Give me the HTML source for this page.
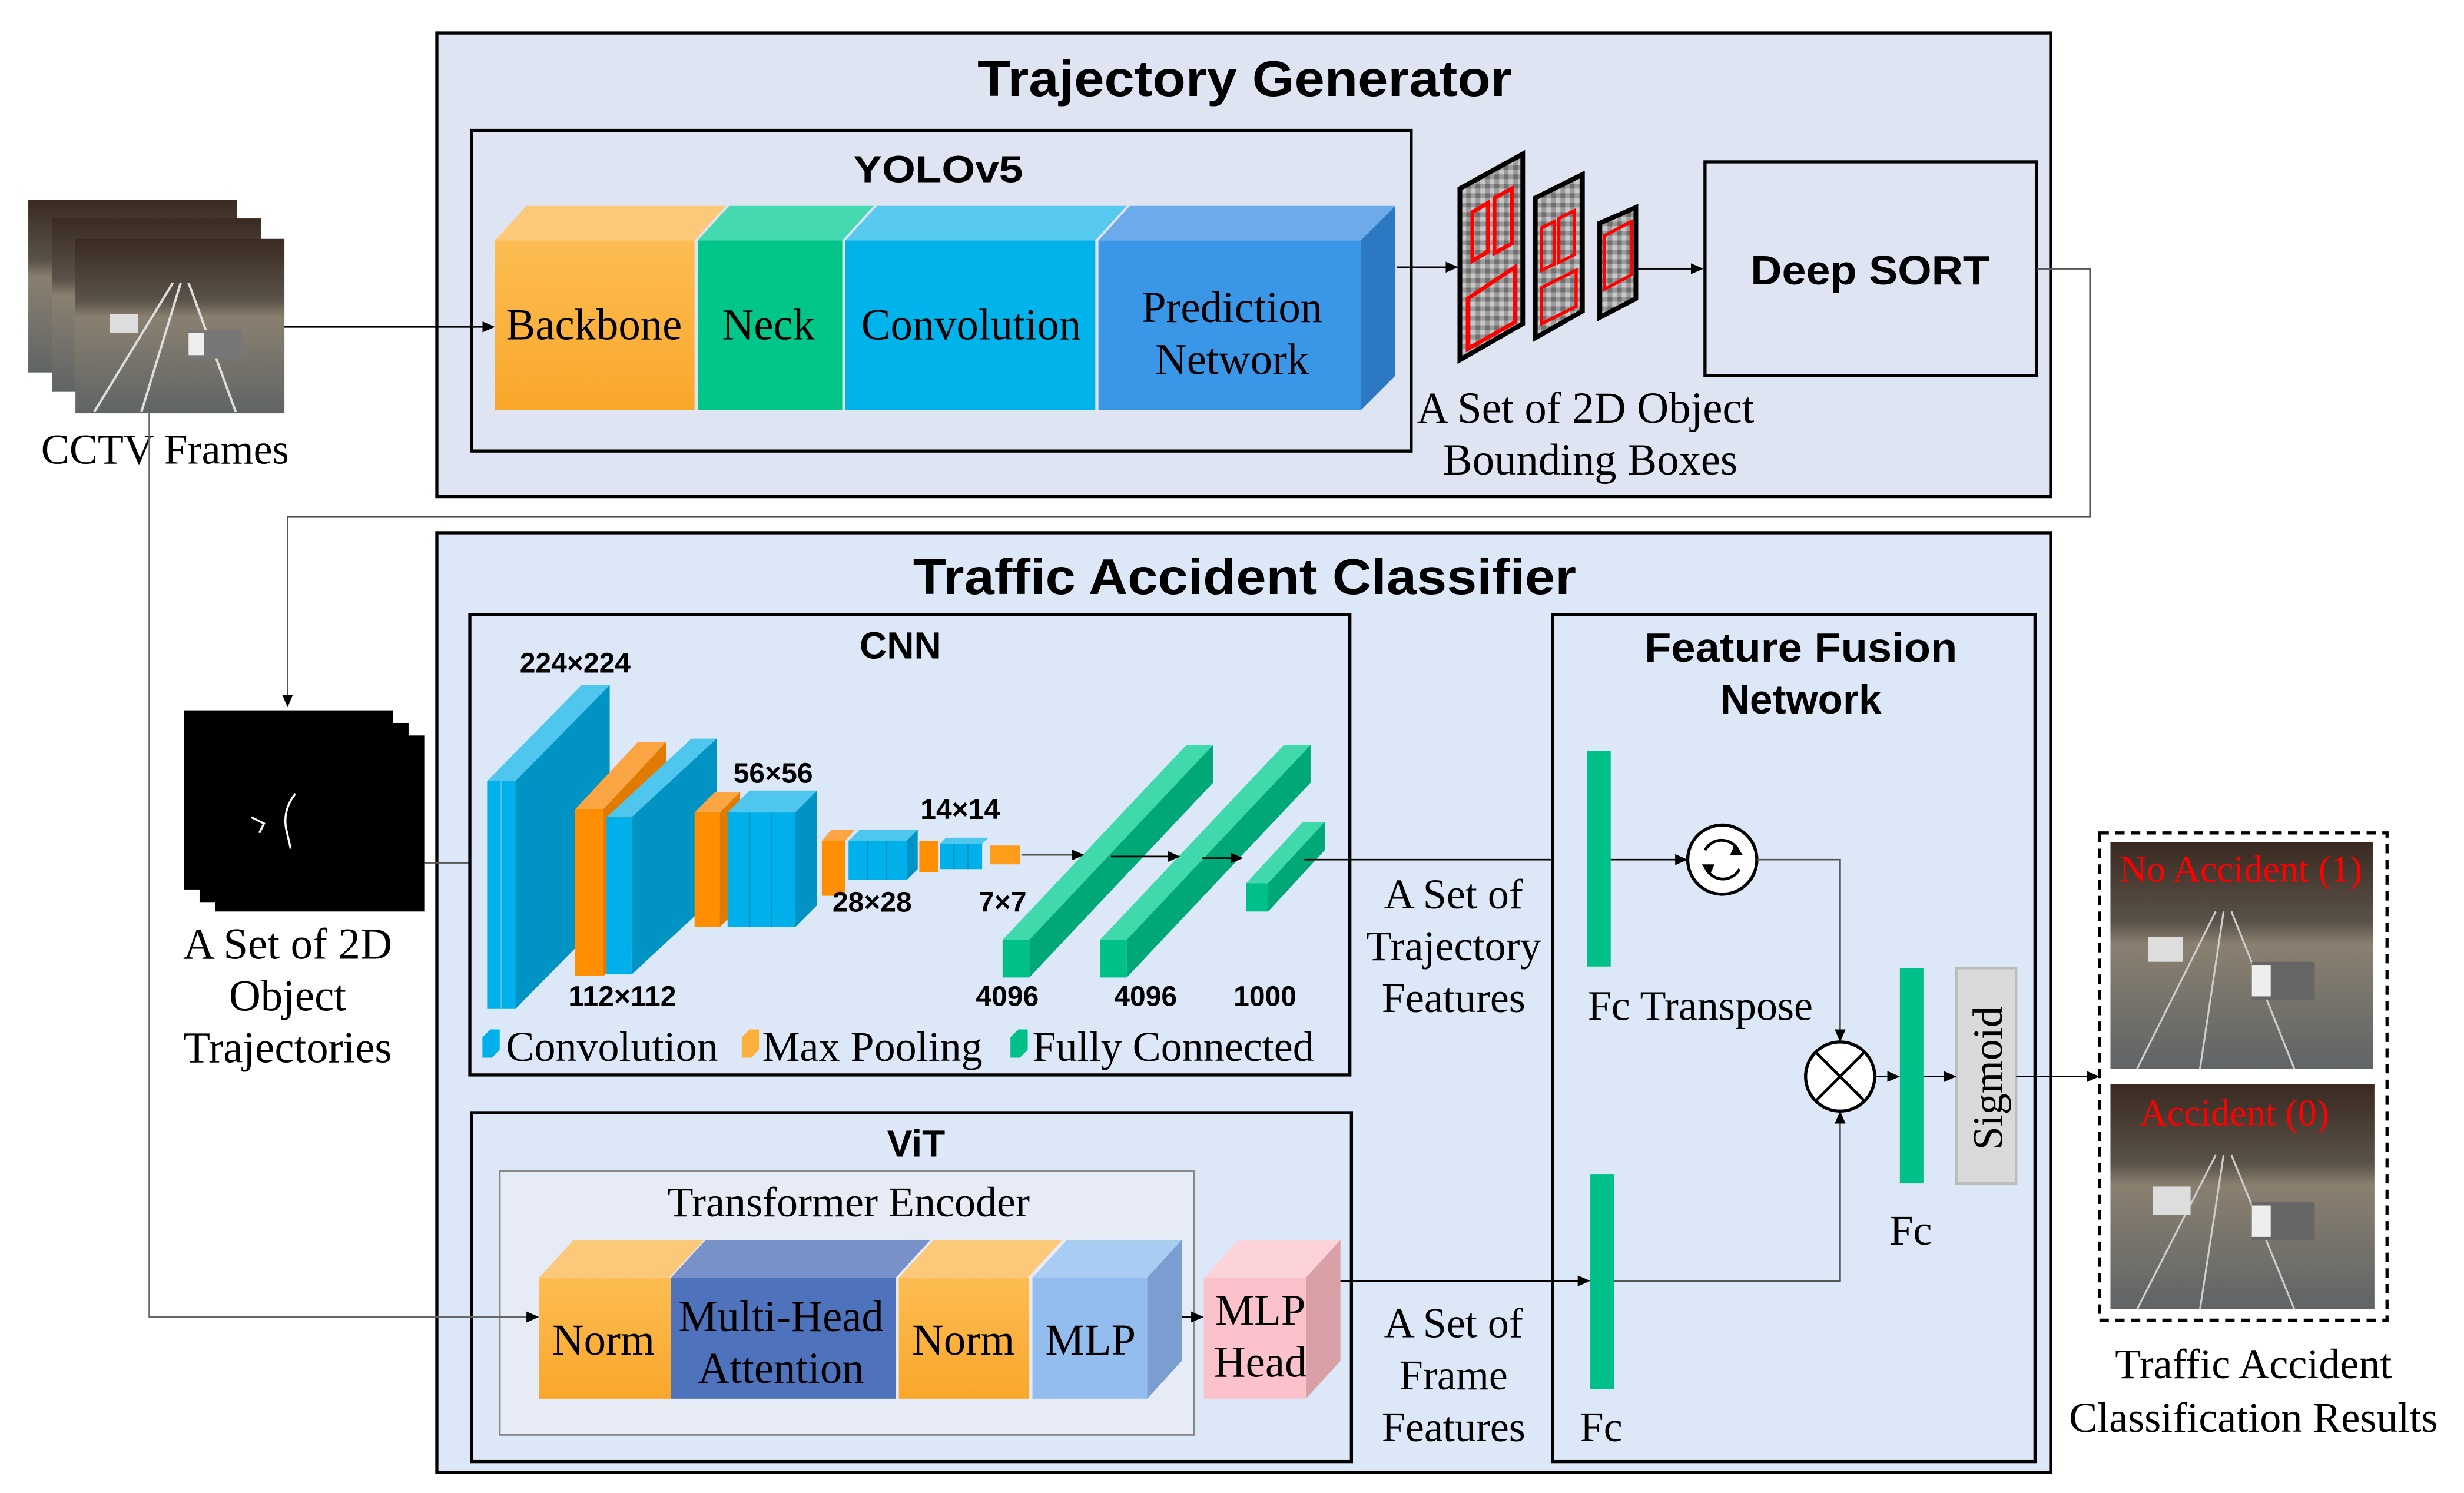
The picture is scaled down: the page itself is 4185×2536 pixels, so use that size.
<!DOCTYPE html>
<html><head><meta charset="utf-8"><style>
html,body{margin:0;padding:0;background:#fff;}
svg{display:block;}
.s{font-family:"Liberation Serif",serif;fill:#000;}
.b{font-family:"Liberation Sans Narrow","Liberation Sans",sans-serif;font-weight:bold;fill:#000;}
</style></head><body>
<svg width="4185" height="2536" viewBox="0 0 1568 950" preserveAspectRatio="none" xmlns="http://www.w3.org/2000/svg">
<defs>
<marker id="ah" markerWidth="8" markerHeight="8" refX="7" refY="4" orient="auto" markerUnits="userSpaceOnUse"><path d="M0,0.5 L8,4 L0,7.5z" fill="#000"/></marker>
<linearGradient id="road" x1="0" y1="0" x2="0" y2="1"><stop offset="0" stop-color="#3a2a22"/><stop offset="0.35" stop-color="#5a5248"/><stop offset="0.45" stop-color="#8a8070"/><stop offset="1" stop-color="#606466"/></linearGradient>
<linearGradient id="org" x1="0" y1="0" x2="0" y2="1"><stop offset="0" stop-color="#fdbd52"/><stop offset="1" stop-color="#f9a72b"/></linearGradient>
<pattern id="noise" width="6" height="6" patternUnits="userSpaceOnUse"><rect width="6" height="6" fill="#9a9a9a"/><rect x="0" y="0" width="3" height="3" fill="#c8c8c8"/><rect x="3" y="3" width="3" height="3" fill="#707070"/></pattern>
</defs>

<!-- CCTV frames -->
<rect x="18" y="127" width="133" height="110" fill="url(#road)"/>
<rect x="33" y="139" width="133" height="110" fill="url(#road)"/>
<rect x="48" y="152" width="133" height="111" fill="url(#road)"/>
<path d="M60,262 L110,180 M90,262 L115,180 M150,262 L120,180" stroke="#ddd" stroke-width="1.5" fill="none"/>
<rect x="70" y="200" width="18" height="12" fill="#ddd"/>
<rect x="120" y="210" width="34" height="18" fill="#777"/><rect x="120" y="212" width="10" height="14" fill="#eee"/>
<text class="s" x="105" y="295" font-size="27" text-anchor="middle">CCTV Frames</text>

<!-- Trajectory generator -->
<rect x="278" y="21" width="1027" height="295" fill="#dfe4f3" stroke="#000" stroke-width="2"/>
<text class="b" x="792" y="61" font-size="32" text-anchor="middle" textLength="340" lengthAdjust="spacingAndGlyphs">Trajectory Generator</text>
<rect x="300" y="83" width="598" height="204" fill="#dfe4f3" stroke="#000" stroke-width="2"/>
<text class="b" x="597" y="116" font-size="24" text-anchor="middle" textLength="108" lengthAdjust="spacingAndGlyphs">YOLOv5</text>

<polygon points="315,153 335,131 462,131 442,153" fill="#fcc97a"/>
<rect x="315" y="153" width="127" height="108" fill="url(#org)"/>
<polygon points="444,153 464,131 556,131 536,153" fill="#45d9b2"/>
<rect x="444" y="153" width="92" height="108" fill="#00c68a"/>
<polygon points="538,153 558,131 717,131 697,153" fill="#58c9ee"/>
<rect x="538" y="153" width="159" height="108" fill="#00b3ea"/>
<polygon points="699,153 719,131 888,131 866,153" fill="#6caaea"/>
<polygon points="866,153 888,131 888,239 866,261" fill="#2c78c2"/>
<rect x="699" y="153" width="167" height="108" fill="#3a96e6"/>
<text class="s" x="378" y="216" font-size="28" text-anchor="middle">Backbone</text>
<text class="s" x="489" y="216" font-size="28" text-anchor="middle">Neck</text>
<text class="s" x="618" y="216" font-size="28" text-anchor="middle">Convolution</text>
<text class="s" x="784" y="205" font-size="28" text-anchor="middle">Prediction</text>
<text class="s" x="784" y="238" font-size="28" text-anchor="middle">Network</text>

<line x1="181" y1="208" x2="314" y2="208" stroke="#000" stroke-width="1" marker-end="url(#ah)"/>
<line x1="889" y1="170" x2="927" y2="170" stroke="#000" stroke-width="1" marker-end="url(#ah)"/>

<!-- feature maps -->
<polygon points="929,120 969,98 969,206 929,229" fill="url(#noise)" stroke="#000" stroke-width="3"/>
<polygon points="934,190 964,170 964,205 934,222" fill="none" stroke="#f00" stroke-width="2.5"/>
<polygon points="937,135 947,129 947,160 937,166" fill="none" stroke="#f00" stroke-width="2.5"/>
<polygon points="951,126 962,120 962,155 951,161" fill="none" stroke="#f00" stroke-width="2.5"/>
<polygon points="977,126 1007,111 1007,198 977,215" fill="url(#noise)" stroke="#000" stroke-width="3"/>
<polygon points="981,145 989,141 989,168 981,172" fill="none" stroke="#f00" stroke-width="2"/>
<polygon points="992,139 1002,134 1002,162 992,167" fill="none" stroke="#f00" stroke-width="2"/>
<polygon points="981,183 1003,172 1003,195 981,206" fill="none" stroke="#f00" stroke-width="2"/>
<polygon points="1018,142 1041,132 1041,190 1018,202" fill="url(#noise)" stroke="#000" stroke-width="3"/>
<polygon points="1021,150 1038,141 1038,175 1021,184" fill="none" stroke="#f00" stroke-width="2"/>
<line x1="1041" y1="171" x2="1083" y2="171" stroke="#000" stroke-width="1" marker-end="url(#ah)"/>
<rect x="1085" y="103" width="211" height="136" fill="#dfe4f3" stroke="#000" stroke-width="2"/>
<text class="b" x="1190" y="181" font-size="26" text-anchor="middle" textLength="152" lengthAdjust="spacingAndGlyphs">Deep SORT</text>
<text class="s" x="1009" y="269" font-size="28" text-anchor="middle">A Set of 2D Object</text>
<text class="s" x="1012" y="302" font-size="28" text-anchor="middle">Bounding Boxes</text>

<polyline points="1296,171 1330,171 1330,329 183,329 183,449" fill="none" stroke="#555" stroke-width="1" marker-end="url(#ah)"/>

<!-- Traffic accident classifier -->
<rect x="278" y="339" width="1027" height="598" fill="#dce8f7" stroke="#000" stroke-width="2"/>
<text class="b" x="792" y="378" font-size="32" text-anchor="middle" textLength="422" lengthAdjust="spacingAndGlyphs">Traffic Accident Classifier</text>

<!-- trajectories images -->
<rect x="117" y="452" width="133" height="114" fill="#000"/>
<rect x="127" y="460" width="133" height="114" fill="#000"/>
<rect x="137" y="468" width="133" height="112" fill="#000"/>
<path d="M160,520 L168,524 L165,530 M188,505 Q180,515 182,527 L185,540" stroke="#fff" stroke-width="1.3" fill="none"/>
<text class="s" x="183" y="610" font-size="28" text-anchor="middle">A Set of 2D</text>
<text class="s" x="183" y="643" font-size="28" text-anchor="middle">Object</text>
<text class="s" x="183" y="676" font-size="28" text-anchor="middle">Trajectories</text>
<line x1="270" y1="549" x2="308" y2="549" stroke="#555" stroke-width="1" marker-end="url(#ah)"/>

<!-- CNN -->
<rect x="299" y="391" width="560" height="293" fill="#dce8f7" stroke="#000" stroke-width="2"/>
<text class="b" x="573" y="419" font-size="24" text-anchor="middle">CNN</text>
<polygon points="310,497 370,436 388,436 328,497" fill="#4fc6ee"/>
<polygon points="328,497 388,436 388,581 328,642" fill="#0093c4"/>
<rect x="310" y="497" width="18" height="145" fill="#00b0eb"/>
<line x1="319" y1="497" x2="319" y2="642" stroke="#4fc6ee" stroke-width="1"/>
<polygon points="366,515 406,472 424,472 384,515" fill="#fba544"/>
<polygon points="384,515 424,472 424,578 384,621" fill="#e07a00"/>
<rect x="366" y="515" width="18" height="106" fill="#ff8f00"/>
<polygon points="386,520 440,470 456,470 402,520" fill="#4fc6ee"/>
<polygon points="402,520 456,470 456,570 402,620" fill="#0093c4"/>
<rect x="386" y="520" width="16" height="100" fill="#00b0eb"/>
<polygon points="442,517 455,504 471,504 458,517" fill="#fba544"/>
<polygon points="458,517 471,504 471,577 458,590" fill="#e07a00"/>
<rect x="442" y="517" width="16" height="73" fill="#ff8f00"/>
<polygon points="463,517 477,503 520,503 506,517" fill="#4fc6ee"/>
<polygon points="506,517 520,503 520,576 506,590" fill="#0093c4"/>
<rect x="463" y="517" width="43" height="73" fill="#00b0eb"/>
<line x1="477" y1="517" x2="477" y2="590" stroke="#0093c4"/><line x1="491" y1="517" x2="491" y2="590" stroke="#0093c4"/>
<polygon points="523,535 529,528 544,528 538,535" fill="#fba544"/>
<rect x="523" y="535" width="15" height="35" fill="#ff8f00"/>
<polygon points="540,535 547,528 584,528 577,535" fill="#4fc6ee"/>
<polygon points="577,535 584,528 584,553 577,560" fill="#0093c4"/>
<rect x="540" y="535" width="37" height="25" fill="#00b0eb"/>
<line x1="552" y1="535" x2="552" y2="560" stroke="#0093c4"/><line x1="564" y1="535" x2="564" y2="560" stroke="#0093c4"/>
<rect x="585" y="535" width="12" height="20" fill="#ff8f00"/>
<polygon points="598,537 602,533 629,533 625,537" fill="#4fc6ee"/>
<rect x="598" y="537" width="27" height="16" fill="#00b0eb"/>
<line x1="607" y1="537" x2="607" y2="553" stroke="#0093c4"/><line x1="616" y1="537" x2="616" y2="553" stroke="#0093c4"/>
<rect x="630" y="538" width="19" height="12" fill="#ff9d1a"/>
<polygon points="638,598 755,474 772,474 655,598" fill="#3fd9ac"/>
<polygon points="655,598 772,474 772,498 655,622" fill="#00a877"/>
<rect x="638" y="598" width="17" height="24" fill="#00c08a"/>
<polygon points="700,598 817,474 834,474 717,598" fill="#3fd9ac"/>
<polygon points="717,598 834,474 834,498 717,622" fill="#00a877"/>
<rect x="700" y="598" width="17" height="24" fill="#00c08a"/>
<polygon points="793,562 829,523 843,523 807,562" fill="#3fd9ac"/>
<polygon points="807,562 843,523 843,541 807,580" fill="#00a877"/>
<rect x="793" y="562" width="14" height="18" fill="#00c08a"/>
<line x1="650" y1="544" x2="689" y2="544" stroke="#555" stroke-width="1" marker-end="url(#ah)"/>
<line x1="707" y1="545" x2="750" y2="545" stroke="#000" stroke-width="1" marker-end="url(#ah)"/>
<line x1="765" y1="546" x2="790" y2="546" stroke="#000" stroke-width="1" marker-end="url(#ah)"/>
<line x1="830" y1="547" x2="1009" y2="547" stroke="#000" stroke-width="1" marker-end="url(#ah)"/>
<g class="b" font-size="18" text-anchor="middle">
<text x="366" y="428">224×224</text>
<text x="396" y="640">112×112</text>
<text x="492" y="498">56×56</text>
<text x="555" y="580">28×28</text>
<text x="611" y="521">14×14</text>
<text x="638" y="580">7×7</text>
<text x="641" y="640">4096</text>
<text x="729" y="640">4096</text>
<text x="805" y="640">1000</text>
</g>
<polygon points="307,660 312,655 318,655 318,668 313,673 307,673" fill="#00b0eb"/>
<polygon points="472,660 477,655 483,655 483,668 478,673 472,673" fill="#fbb03b"/>
<polygon points="643,660 648,655 654,655 654,668 649,673 643,673" fill="#00c08a"/>
<text class="s" x="322" y="675" font-size="27">Convolution</text>
<text class="s" x="485" y="675" font-size="27">Max Pooling</text>
<text class="s" x="657" y="675" font-size="27">Fully Connected</text>

<!-- ViT -->
<rect x="300" y="708" width="560" height="222" fill="#dce8f7" stroke="#000" stroke-width="2"/>
<text class="b" x="583" y="736" font-size="24" text-anchor="middle">ViT</text>
<rect x="318" y="745" width="442" height="168" fill="#e6ebf5" stroke="#888" stroke-width="1.2"/>
<text class="s" x="540" y="774" font-size="27" text-anchor="middle">Transformer Encoder</text>
<polygon points="343,813 365,789 448,789 426,813" fill="#fcc97a"/>
<rect x="343" y="813" width="84" height="77" fill="url(#org)"/>
<polygon points="427,813 449,789 592,789 570,813" fill="#7891c9"/>
<rect x="427" y="813" width="143" height="77" fill="#4f72bc"/>
<polygon points="572,813 594,789 676,789 654,813" fill="#fcc97a"/>
<rect x="572" y="813" width="83" height="77" fill="url(#org)"/>
<polygon points="657,813 679,789 752,789 730,813" fill="#a9ccf2"/>
<polygon points="730,813 752,789 752,866 730,890" fill="#7a9ed0"/>
<rect x="657" y="813" width="73" height="77" fill="#94bdef"/>
<polygon points="766,813 788,789 853,789 831,813" fill="#fdd3da"/>
<polygon points="831,813 853,789 853,866 831,890" fill="#d9a0a8"/>
<rect x="766" y="813" width="65" height="77" fill="#fbc2cb"/>
<text class="s" x="384" y="862" font-size="28" text-anchor="middle">Norm</text>
<text class="s" x="497" y="847" font-size="28" text-anchor="middle">Multi-Head</text>
<text class="s" x="497" y="880" font-size="28" text-anchor="middle">Attention</text>
<text class="s" x="613" y="862" font-size="28" text-anchor="middle">Norm</text>
<text class="s" x="694" y="862" font-size="28" text-anchor="middle">MLP</text>
<text class="s" x="802" y="843" font-size="28" text-anchor="middle">MLP</text>
<text class="s" x="802" y="876" font-size="28" text-anchor="middle">Head</text>
<line x1="752" y1="838" x2="765" y2="838" stroke="#000" stroke-width="1" marker-end="url(#ah)"/>
<polyline points="95,263 95,838 342,838" fill="none" stroke="#666" stroke-width="1" marker-end="url(#ah)"/>

<!-- Feature fusion -->
<rect x="988" y="391" width="307" height="539" fill="#dce8f7" stroke="#000" stroke-width="2"/>
<text class="b" x="1146" y="421" font-size="26" text-anchor="middle" textLength="199" lengthAdjust="spacingAndGlyphs">Feature Fusion</text>
<text class="b" x="1146" y="454" font-size="26" text-anchor="middle">Network</text>
<text class="s" x="925" y="578" font-size="27" text-anchor="middle">A Set of</text>
<text class="s" x="925" y="611" font-size="27" text-anchor="middle">Trajectory</text>
<text class="s" x="925" y="644" font-size="27" text-anchor="middle">Features</text>
<text class="s" x="925" y="851" font-size="27" text-anchor="middle">A Set of</text>
<text class="s" x="925" y="884" font-size="27" text-anchor="middle">Frame</text>
<text class="s" x="925" y="917" font-size="27" text-anchor="middle">Features</text>
<rect x="1010" y="478" width="15" height="137" fill="#00c08a"/>
<rect x="1012" y="747" width="15" height="137" fill="#00c08a"/>
<rect x="1209" y="616" width="15" height="137" fill="#00c08a"/>
<rect x="1245" y="616" width="38" height="137" fill="#d9d9d9" stroke="#bbb" stroke-width="1.5"/>
<text class="s" x="0" y="0" font-size="27" text-anchor="middle" transform="translate(1274,686) rotate(-90)">Sigmoid</text>
<text class="s" x="1082" y="649" font-size="27" text-anchor="middle">Fc Transpose</text>
<text class="s" x="1216" y="792" font-size="27" text-anchor="middle">Fc</text>
<text class="s" x="1019" y="917" font-size="27" text-anchor="middle">Fc</text>
<line x1="1025" y1="547" x2="1073" y2="547" stroke="#000" stroke-width="1" marker-end="url(#ah)"/>
<circle cx="1096" cy="547" r="22" fill="#fff" stroke="#000" stroke-width="2"/>
<path d="M1085,541 A12,12 0 0 1 1107,543 M1107,553 A12,12 0 0 1 1085,551" fill="none" stroke="#000" stroke-width="1.8"/>
<path d="M1104,537 L1109,544 L1101,544z M1088,557 L1083,550 L1091,550z" fill="#000"/>
<polyline points="1118,547 1171,547 1171,662" fill="none" stroke="#555" stroke-width="1" marker-end="url(#ah)"/>
<polyline points="853,815 1011,815" fill="none" stroke="#000" stroke-width="1" marker-end="url(#ah)"/>
<polyline points="1027,815 1171,815 1171,708" fill="none" stroke="#555" stroke-width="1" marker-end="url(#ah)"/>
<circle cx="1171" cy="685" r="22" fill="#fff" stroke="#000" stroke-width="2"/>
<path d="M1155,669 L1187,701 M1187,669 L1155,701" stroke="#000" stroke-width="1.8"/>
<line x1="1193" y1="685" x2="1208" y2="685" stroke="#000" stroke-width="1" marker-end="url(#ah)"/>
<line x1="1224" y1="685" x2="1244" y2="685" stroke="#000" stroke-width="1" marker-end="url(#ah)"/>
<line x1="1283" y1="685" x2="1335" y2="685" stroke="#000" stroke-width="1" marker-end="url(#ah)"/>

<!-- results -->
<rect x="1336" y="530" width="183" height="310" fill="#fff" stroke="#000" stroke-width="2" stroke-dasharray="6,4"/>
<rect x="1343" y="536" width="167" height="144" fill="url(#road)"/>
<rect x="1343" y="690" width="168" height="143" fill="url(#road)"/>
<path d="M1360,680 L1410,580 M1400,680 L1415,580 M1460,680 L1420,580" stroke="#ccc" stroke-width="1.2" fill="none"/>
<path d="M1360,833 L1410,735 M1400,833 L1415,735 M1460,833 L1420,735" stroke="#ccc" stroke-width="1.2" fill="none"/>
<rect x="1367" y="596" width="22" height="16" fill="#ddd"/><rect x="1433" y="612" width="40" height="24" fill="#666"/><rect x="1433" y="614" width="12" height="20" fill="#eee"/>
<rect x="1370" y="755" width="24" height="18" fill="#ddd"/><rect x="1433" y="765" width="40" height="24" fill="#666"/><rect x="1433" y="767" width="12" height="20" fill="#eee"/>
<text x="1426" y="561" font-family="Liberation Serif,serif" font-size="24" fill="#ff0000" text-anchor="middle">No Accident (1)</text>
<text x="1422" y="716" font-family="Liberation Serif,serif" font-size="24" fill="#ff0000" text-anchor="middle">Accident (0)</text>
<text class="s" x="1434" y="877" font-size="27" text-anchor="middle">Traffic Accident</text>
<text class="s" x="1434" y="911" font-size="27" text-anchor="middle">Classification Results</text>
</svg>
</body></html>
